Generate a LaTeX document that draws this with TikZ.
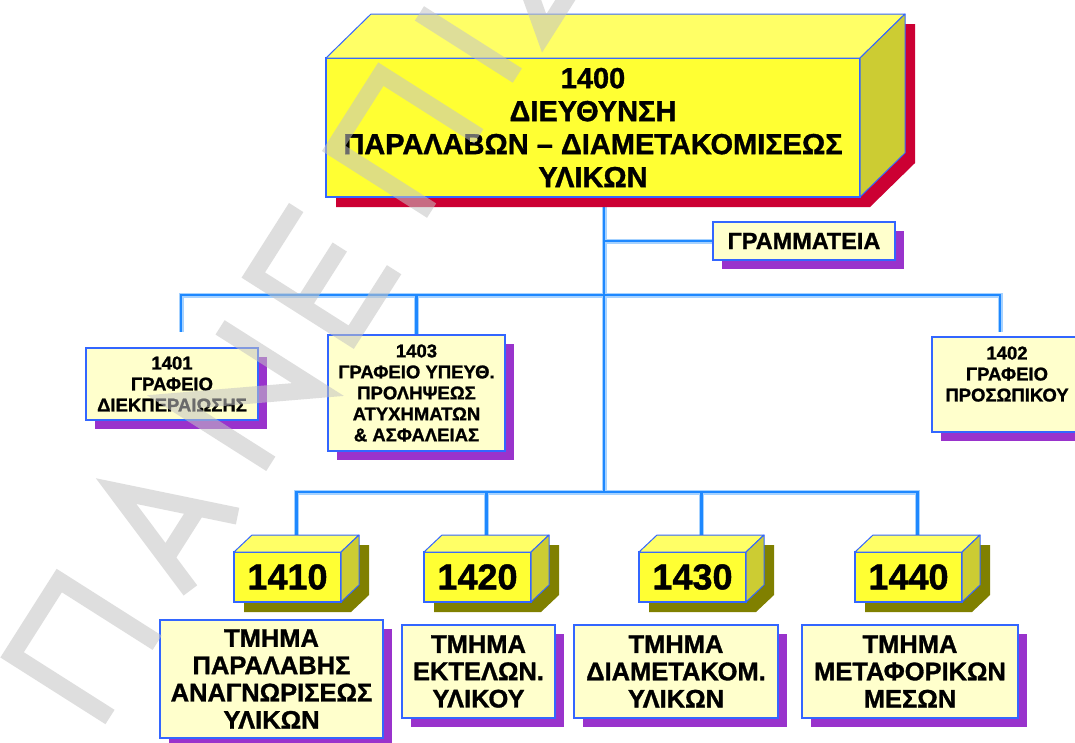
\documentclass[tikz,border=0pt]{standalone}
\usepackage{fontspec}
\setmainfont{Liberation Sans}[BoldFeatures={FakeBold=1.2}]
\usetikzlibrary{calc}
\pgfdeclarelayer{bg}
\pgfdeclarelayer{lines}
\pgfdeclarelayer{shadows}
\pgfdeclarelayer{wm}
\pgfsetlayers{bg,lines,shadows,main,wm}
\definecolor{yfront}{HTML}{FFFF33}
\definecolor{ytop}{HTML}{FFFF66}
\definecolor{yside}{HTML}{CCCC33}
\definecolor{edgeblue}{HTML}{3366FF}
\definecolor{cream}{HTML}{FFFFCC}
\definecolor{redshadow}{HTML}{CC0033}
\definecolor{oliveshadow}{HTML}{808000}
\definecolor{purpleshadow}{HTML}{9933CC}
\definecolor{lineblue}{HTML}{1E88FF}
\definecolor{halocol}{HTML}{A6D2FF}
\definecolor{wmgray}{HTML}{C4C4C4}
\newcommand\bigfont{\fontsize{29}{33}\selectfont\bfseries}
\newcommand\numfont{\fontsize{36}{40}\selectfont\bfseries}
\newcommand\midfont{\fontsize{18.5}{21}\selectfont\bfseries}
\newcommand\lowfont{\fontsize{25.5}{27.3}\selectfont\bfseries}
\newcommand\gramfont{\fontsize{23.5}{26}\selectfont\bfseries}
% 3D faces and shadow for a cube node: name, dx, dy, shadow colour
\newcommand\cubefaces[4]{%
  \fill[ytop,draw=edgeblue,line width=1pt,line join=round] (#1.north west) -- ++(#2,#3) -- ($(#1.north east)+(#2,#3)$) -- (#1.north east) -- cycle;
  \fill[yside,draw=edgeblue,line width=1pt,line join=round] (#1.north east) -- ++(#2,#3) -- ($(#1.south east)+(#2,#3)$) -- (#1.south east) -- cycle;
  \begin{pgfonlayer}{shadows}
  \fill[#4] ($(#1.north west)+(10,10)$) -- ($(#1.north west)+(#2+10,#3+10)$) -- ($(#1.north east)+(#2+10,#3+10)$) -- ($(#1.south east)+(#2+10,#3+10)$) -- ($(#1.south east)+(10,10)$) -- ($(#1.south west)+(10,10)$) -- cycle;
  \end{pgfonlayer}}
\newcommand\boxshadow[1]{%
  \begin{pgfonlayer}{shadows}
  \fill[purpleshadow] ($(#1.north west)+(9,9)$) rectangle ($(#1.south east)+(9,9)$);
  \end{pgfonlayer}}
\newcommand\allconns[1]{%
  \draw[#1] ($(main.south)+(11,0)$) -- (j2);
  \draw[#1] (j0) -- (gram.west);
  \draw[#1] (j1) -| ($(b1401.north)+(9,-16)$);
  \draw[#1] (j1) -| (b1403.north);
  \draw[#1] (j1) -| ($(b1402.north)+(-7,-5)$);
  \draw[#1] (j2) -| ($(c1410.north)+(9,-17)$);
  \draw[#1] (j2) -| ($(c1420.north)+(9,-17)$);
  \draw[#1] (j2) -| ($(c1430.north)+(9,-17)$);
  \draw[#1] (j2) -| ($(c1440.north)+(9,-17)$);}
\begin{document}
\begin{tikzpicture}[x=1pt,y=-1pt,
  front/.style={draw=edgeblue,line width=1.2pt,fill=yfront,inner sep=0pt,outer sep=0pt,align=center},
  tbox/.style={draw=edgeblue,line width=1.8pt,fill=cream,inner sep=0pt,outer sep=0pt,align=center},
  halo/.style={draw=halocol,line width=5pt},
  core/.style={draw=lineblue,line width=2.2pt},
  wmstroke/.style={draw=wmgray,line width=17pt,line join=miter,line cap=butt}]
\path[use as bounding box] (0,0) rectangle (1075,742);
\begin{pgfonlayer}{bg}
\fill[white] (0,0) rectangle (1075,742);
\end{pgfonlayer}

% main box
\node[front,minimum width=534pt,minimum height=139pt,font=\bigfont] (main) at (593,127.5)
  {1400\\ΔΙΕΥΘΥΝΣΗ\\ΠΑΡΑΛΑΒΩΝ – ΔΙΑΜΕΤΑΚΟΜΙΣΕΩΣ\\ΥΛΙΚΩΝ};
\cubefaces{main}{45}{-44}{redshadow}

% secretariat
\node[tbox,minimum width=182pt,minimum height=38pt,font=\gramfont] (gram) at (804,241) {ΓΡΑΜΜΑΤΕΙΑ};
\boxshadow{gram}

% offices
\node[tbox,minimum width=172pt,minimum height=72pt,font=\midfont] (b1401) at (172,384)
  {1401\\ΓΡΑΦΕΙΟ\\ΔΙΕΚΠΕΡΑΙΩΣΗΣ};
\boxshadow{b1401}
\node[tbox,minimum width=177pt,minimum height=116pt,font=\midfont] (b1403) at (416.5,393)
  {1403\\ΓΡΑΦΕΙΟ ΥΠΕΥΘ.\\ΠΡΟΛΗΨΕΩΣ\\ΑΤΥΧΗΜΑΤΩΝ\\\& ΑΣΦΑΛΕΙΑΣ};
\boxshadow{b1403}
\node[tbox,minimum width=150pt,minimum height=95pt,font=\midfont] (b1402) at (1007,384.5)
  {1402\\ΓΡΑΦΕΙΟ\\ΠΡΟΣΩΠΙΚΟΥ\\\mbox{}};
\boxshadow{b1402}

% department cubes
\node[front,minimum width=107pt,minimum height=50pt,font=\numfont] (c1410) at (287.5,577) {1410};
\cubefaces{c1410}{18}{-17}{oliveshadow}
\node[front,minimum width=107pt,minimum height=50pt,font=\numfont] (c1420) at (477.5,577) {1420};
\cubefaces{c1420}{18}{-17}{oliveshadow}
\node[front,minimum width=107pt,minimum height=50pt,font=\numfont] (c1430) at (692.5,577) {1430};
\cubefaces{c1430}{18}{-17}{oliveshadow}
\node[front,minimum width=107pt,minimum height=50pt,font=\numfont] (c1440) at (908.5,577) {1440};
\cubefaces{c1440}{18}{-17}{oliveshadow}

% department text boxes
\node[tbox,minimum width=223pt,minimum height=118pt,font=\lowfont] (t1410) at (271.5,679)
  {ΤΜΗΜΑ\\ΠΑΡΑΛΑΒΗΣ\\ΑΝΑΓΝΩΡΙΣΕΩΣ\\ΥΛΙΚΩΝ};
\boxshadow{t1410}
\node[tbox,minimum width=153pt,minimum height=93pt,font=\lowfont] (t1420) at (478.5,671.5)
  {ΤΜΗΜΑ\\ΕΚΤΕΛΩΝ.\\ΥΛΙΚΟΥ};
\boxshadow{t1420}
\node[tbox,minimum width=204pt,minimum height=93pt,font=\lowfont] (t1430) at (676,671.5)
  {ΤΜΗΜΑ\\ΔΙΑΜΕΤΑΚΟΜ.\\ΥΛΙΚΩΝ};
\boxshadow{t1430}
\node[tbox,minimum width=216pt,minimum height=93pt,font=\lowfont] (t1440) at (910,671.5)
  {ΤΜΗΜΑ\\ΜΕΤΑΦΟΡΙΚΩΝ\\ΜΕΣΩΝ};
\boxshadow{t1440}

% connectors
\coordinate (j0) at (604,241);
\coordinate (j1) at (604,295);
\coordinate (j2) at (604,492);
\begin{pgfonlayer}{lines}
\allconns{halo}
\allconns{core}
\end{pgfonlayer}

% watermark
\begin{pgfonlayer}{wm}
\begin{scope}[transparency group,opacity=0.55]
\begin{scope}[shift={(110,717)},x={(0.536pt,0.844pt)},y={(-0.844pt,0.536pt)}]
\draw[wmstroke] (0,0) -- (0,116) -- (88,116) -- (88,0);
\draw[wmstroke] (150,0) -- (194,116) -- (238,0) (164,38) -- (224,38);
\draw[wmstroke] (300,0) -- (300,116) -- (388,0) -- (388,116);
\draw[wmstroke] (530,116) -- (450,116) -- (450,0) -- (530,0) (450,58) -- (520,58);
\draw[wmstroke] (600,0) -- (600,116) -- (688,116) -- (688,0);
\draw[wmstroke] (760,0) -- (760,116);
\draw[wmstroke] (890,116) -- (810,116) -- (855,58) -- (810,0) -- (890,0);
\end{scope}
\end{scope}
\end{pgfonlayer}
\end{tikzpicture}
\end{document}
